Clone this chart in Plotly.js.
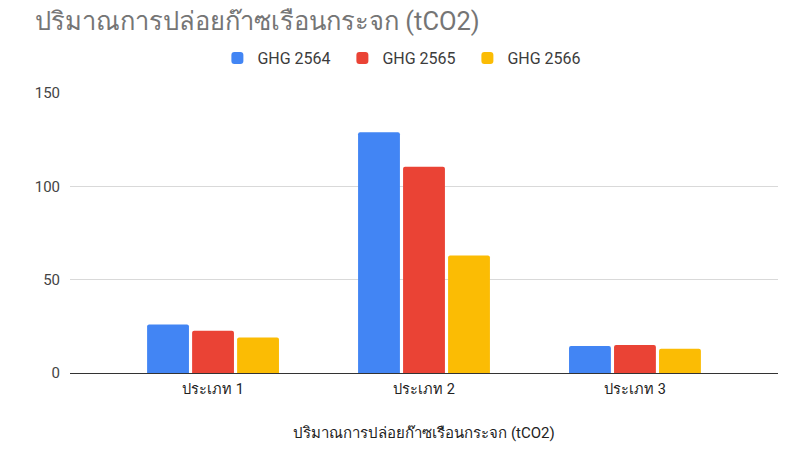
<!DOCTYPE html>
<html>
<head>
<meta charset="utf-8">
<script src="https://cdn.plot.ly/plotly-3.0.1.min.js"></script>
<style>html,body{margin:0;padding:0;background:#fff;}#chart{width:799px;height:465px;}</style>
</head>
<body>
<div id="chart"></div>
<script>
const categories = ["ประเภท 1", "ประเภท 2", "ประเภท 3"];
const seriesNames = ["GHG 2564", "GHG 2565", "GHG 2566"];
const ghg2564 = [26, 129, 14.5];
const ghg2565 = [22.7, 110.5, 15];
const ghg2566 = [19, 63, 13];
const yTicks = [0, 50, 100, 150];
const titleText = "ปริมาณการปล่อยก๊าซเรือนกระจก (tCO2)";

const colors = ["#4285F4", "#EA4335", "#FBBC04"];
const values = [ghg2564, ghg2565, ghg2566];
const font = "Roboto, Arial, 'Noto Sans', sans-serif";

const data = values.map((v, i) => ({
  type: "bar",
  x: categories,
  y: v,
  name: seriesNames[i],
  marker: {color: colors[i]},
  hoverinfo: "x+y+name"
}));

const layout = {
  width: 799, height: 465,
  margin: {l: 70, r: 21, t: 93, b: 92},
  paper_bgcolor: "#fff", plot_bgcolor: "#fff",
  font: {family: font, color: "#444"},
  title: {text: titleText, x: 35/799, xanchor: "left", y: 1 - 21/465, yanchor: "middle",
          font: {family: font, size: 25.5, color: "#757575"}},
  showlegend: true,
  legend: {orientation: "h", x: 0.473, xanchor: "center", y: 1.125, yanchor: "middle",
           font: {family: font, size: 16, color: "#3c3c3c"}, itemwidth: 30,
           entrywidth: 80, entrywidthmode: "pixels", traceorder: "normal"},
  bargap: 0.36,
  bargroupgap: 0.07,
  barcornerradius: 2,
  xaxis: {
    type: "category",
    range: [-0.678, 2.678],
    showgrid: false,
    showline: false,
    ticks: "",
    ticklabelstandoff: 5,
    tickfont: {family: font, size: 14.5, color: "#222"},
    title: {text: titleText, font: {family: font, size: 15, color: "#222"}, standoff: 30}
  },
  yaxis: {
    range: [0, 150],
    tickvals: yTicks,
    ticktext: yTicks.map(String),
    showgrid: true,
    gridcolor: "#d9d9d9",
    gridwidth: 1,
    zeroline: true,
    zerolinecolor: "#333",
    zerolinewidth: 1,
    ticks: "",
    ticklabelstandoff: 9,
    tickfont: {family: font, size: 15, color: "#444"}
  }
};

Plotly.newPlot("chart", data, layout, {displayModeBar: false, staticPlot: true});
</script>
</body>
</html>
